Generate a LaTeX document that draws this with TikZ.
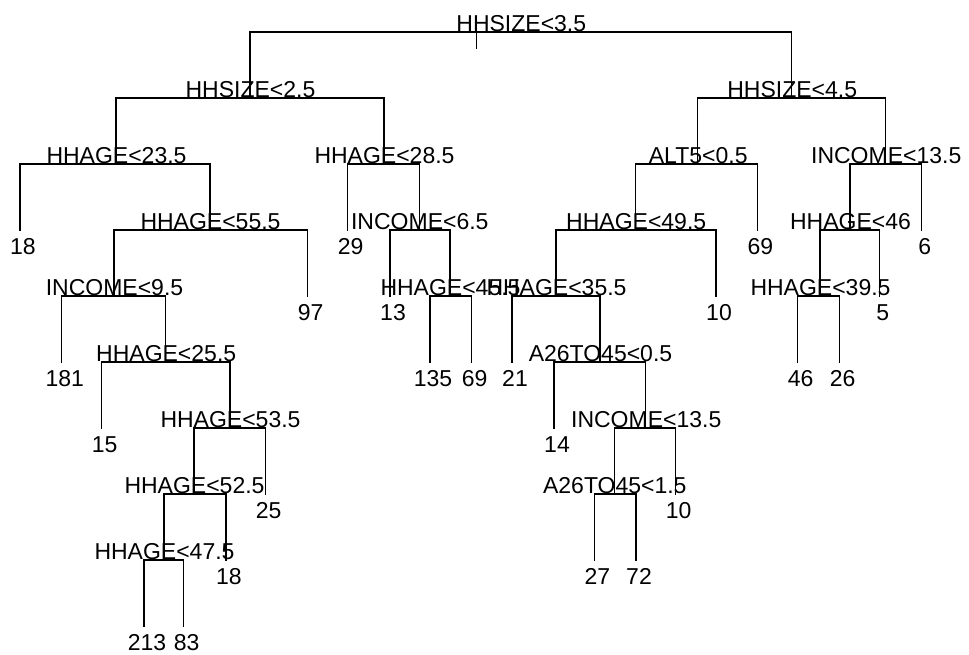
\documentclass[tikz,border=0pt]{standalone}
\usepackage{fontspec}
\setmainfont{Liberation Sans}
\begin{document}
\begin{tikzpicture}[x=1pt,y=-1pt,
  branch/.style={line width=1.5pt,line cap=rect},
  splitlab/.style={anchor=base,inner sep=0pt,xshift=0.5pt,yshift=0.3pt,font=\fontsize{23}{27}\selectfont},
  leaflab/.style={anchor=base,inner sep=0pt,xshift=3pt,yshift=-24pt,font=\fontsize{23}{27}\selectfont}]
\useasboundingbox (0,0) rectangle (969,654);
% internal nodes (split bars) and leaves (branch ends)
\coordinate (n1) at (520.8,32);
\coordinate (n2) at (250,98);
\coordinate (n3) at (791.7,98);
\coordinate (n4) at (116,164);
\coordinate (n5) at (384,164);
\coordinate (n6) at (697.7,164);
\coordinate (n7) at (885.7,164);
\coordinate (n8) at (20,230);
\coordinate (n9) at (210,230);
\coordinate (n10) at (347.7,230);
\coordinate (n11) at (419.3,230);
\coordinate (n12) at (635.7,230);
\coordinate (n13) at (757.3,230);
\coordinate (n14) at (850,230);
\coordinate (n15) at (921.7,230);
\coordinate (n16) at (114,296);
\coordinate (n17) at (307.7,296);
\coordinate (n18) at (390,296);
\coordinate (n19) at (450,296);
\coordinate (n20) at (556,296);
\coordinate (n21) at (716,296);
\coordinate (n22) at (820,296);
\coordinate (n23) at (879.7,296);
\coordinate (n24) at (61.7,362);
\coordinate (n25) at (165.7,362);
\coordinate (n26) at (430,362);
\coordinate (n27) at (471.7,362);
\coordinate (n28) at (512,362);
\coordinate (n29) at (600,362);
\coordinate (n30) at (797.7,362);
\coordinate (n31) at (839.7,362);
\coordinate (n32) at (101.7,428);
\coordinate (n33) at (230,428);
\coordinate (n34) at (554,428);
\coordinate (n35) at (645.7,428);
\coordinate (n36) at (194,494);
\coordinate (n37) at (265.7,494);
\coordinate (n38) at (614.3,494);
\coordinate (n39) at (675.7,494);
\coordinate (n40) at (164,560);
\coordinate (n41) at (226,560);
\coordinate (n42) at (594.3,560);
\coordinate (n43) at (636,560);
\coordinate (n44) at (144,626);
\coordinate (n45) at (183.7,626);
% root marker
\coordinate (rt) at (476.7,32);
\coordinate (rb) at (476.7,48);
\draw[branch] (rt) -- (rb);
% branches: left child up to the split bar, across, down to right child
\foreach \p/\l/\r in {1/2/3,2/4/5,3/6/7,4/8/9,5/10/11,6/12/13,7/14/15,
  9/16/17,11/18/19,12/20/21,14/22/23,16/24/25,19/26/27,20/28/29,22/30/31,
  25/32/33,29/34/35,33/36/37,35/38/39,36/40/41,38/42/43,40/44/45}
  \draw[branch] (n\l) |- (n\p) -| (n\r);
% split labels
\node[splitlab] (s1) at (n1) {HHSIZE<3.5};
\node[splitlab] (s2) at (n2) {HHSIZE<2.5};
\node[splitlab] (s3) at (n3) {HHSIZE<4.5};
\node[splitlab] (s4) at (n4) {HHAGE<23.5};
\node[splitlab] (s5) at (n5) {HHAGE<28.5};
\node[splitlab] (s6) at (n6) {ALT5<0.5};
\node[splitlab] (s7) at (n7) {INCOME<13.5};
\node[splitlab] (s9) at (n9) {HHAGE<55.5};
\node[splitlab] (s11) at (n11) {INCOME<6.5};
\node[splitlab] (s12) at (n12) {HHAGE<49.5};
\node[splitlab] (s14) at (n14) {HHAGE<46};
\node[splitlab] (s16) at (n16) {INCOME<9.5};
\node[splitlab] (s19) at (n19) {HHAGE<45.5};
\node[splitlab] (s20) at (n20) {HHAGE<35.5};
\node[splitlab] (s22) at (n22) {HHAGE<39.5};
\node[splitlab] (s25) at (n25) {HHAGE<25.5};
\node[splitlab] (s29) at (n29) {A26TO45<0.5};
\node[splitlab] (s33) at (n33) {HHAGE<53.5};
\node[splitlab] (s35) at (n35) {INCOME<13.5};
\node[splitlab] (s36) at (n36) {HHAGE<52.5};
\node[splitlab] (s38) at (n38) {A26TO45<1.5};
\node[splitlab] (s40) at (n40) {HHAGE<47.5};
% leaf labels
\node[leaflab] (v8) at (n8) {18};
\node[leaflab] (v10) at (n10) {29};
\node[leaflab] (v13) at (n13) {69};
\node[leaflab] (v15) at (n15) {6};
\node[leaflab] (v17) at (n17) {97};
\node[leaflab] (v18) at (n18) {13};
\node[leaflab] (v21) at (n21) {10};
\node[leaflab] (v23) at (n23) {5};
\node[leaflab] (v24) at (n24) {181};
\node[leaflab] (v26) at (n26) {135};
\node[leaflab] (v27) at (n27) {69};
\node[leaflab] (v28) at (n28) {21};
\node[leaflab] (v30) at (n30) {46};
\node[leaflab] (v31) at (n31) {26};
\node[leaflab] (v32) at (n32) {15};
\node[leaflab] (v34) at (n34) {14};
\node[leaflab] (v37) at (n37) {25};
\node[leaflab] (v39) at (n39) {10};
\node[leaflab] (v41) at (n41) {18};
\node[leaflab] (v42) at (n42) {27};
\node[leaflab] (v43) at (n43) {72};
\node[leaflab] (v44) at (n44) {213};
\node[leaflab] (v45) at (n45) {83};
\end{tikzpicture}
\end{document}
